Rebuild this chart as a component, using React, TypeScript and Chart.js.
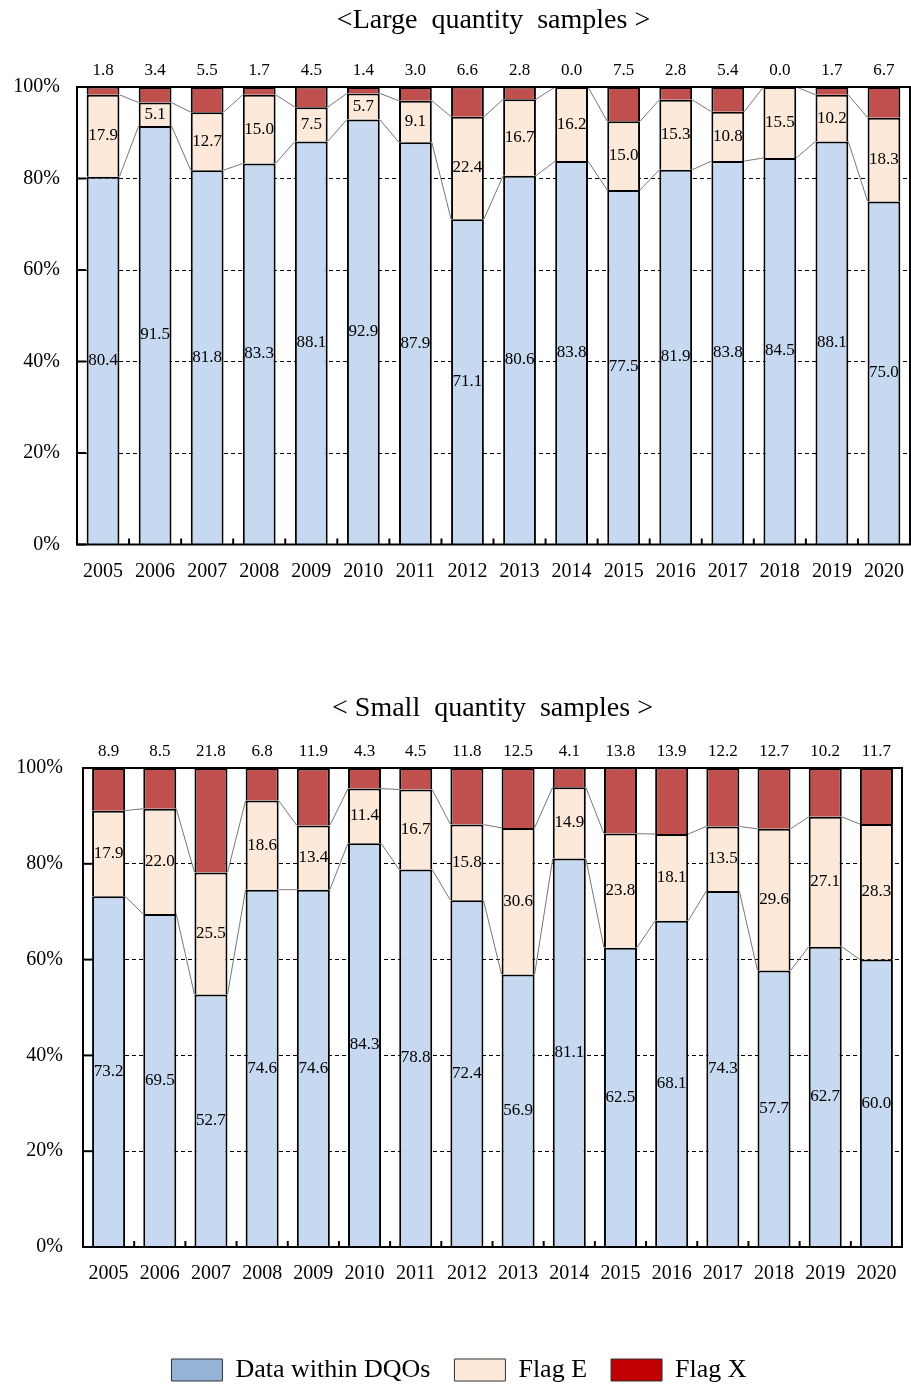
import React, { useEffect, useRef } from 'react';
import { Chart, registerables } from 'chart.js';

Chart.register(...registerables);

const years = ['2005', '2006', '2007', '2008', '2009', '2010', '2011', '2012', '2013', '2014', '2015', '2016', '2017', '2018', '2019', '2020'];

const largeDqo = [80.4, 91.5, 81.8, 83.3, 88.1, 92.9, 87.9, 71.1, 80.6, 83.8, 77.5, 81.9, 83.8, 84.5, 88.1, 75.0];
const largeE = [17.9, 5.1, 12.7, 15.0, 7.5, 5.7, 9.1, 22.4, 16.7, 16.2, 15.0, 15.3, 10.8, 15.5, 10.2, 18.3];
const largeX = [1.8, 3.4, 5.5, 1.7, 4.5, 1.4, 3.0, 6.6, 2.8, 0.0, 7.5, 2.8, 5.4, 0.0, 1.7, 6.7];

const smallDqo = [73.2, 69.5, 52.7, 74.6, 74.6, 84.3, 78.8, 72.4, 56.9, 81.1, 62.5, 68.1, 74.3, 57.7, 62.7, 60.0];
const smallE = [17.9, 22.0, 25.5, 18.6, 13.4, 11.4, 16.7, 15.8, 30.6, 14.9, 23.8, 18.1, 13.5, 29.6, 27.1, 28.3];
const smallX = [8.9, 8.5, 21.8, 6.8, 11.9, 4.3, 4.5, 11.8, 12.5, 4.1, 13.8, 13.9, 12.2, 12.7, 10.2, 11.7];

const seriesNames = ['Data within DQOs', 'Flag E', 'Flag X'];
const barColors = ['#C6D9F1', '#FDE9D9', '#C0504D'];
const legendColors = ['#95B3D7', '#FDE9D9', '#C00000'];
const yTickValues = [0, 20, 40, 60, 80, 100];

const FONT = "'Liberation Serif', 'Times New Roman', serif";

const overlayPlugin = {
  id: 'overlay',
  afterDatasetsDraw(chart: any) {
    const { ctx, chartArea: ca } = chart;
    const ys = chart.scales.y;
    const xs = chart.scales.x;
    ctx.save();
    // series lines
    ctx.strokeStyle = '#777777';
    ctx.lineWidth = 1;
    [0, 1].forEach((di) => {
      const els = chart.getDatasetMeta(di).data;
      for (let i = 0; i < els.length - 1; i++) {
        const a = els[i];
        const b = els[i + 1];
        ctx.beginPath();
        ctx.moveTo(a.x + a.width / 2, a.y);
        ctx.lineTo(b.x - b.width / 2, b.y);
        ctx.stroke();
      }
    });
    // value labels
    ctx.fillStyle = '#000';
    ctx.font = `17px ${FONT}`;
    ctx.textAlign = 'center';
    ctx.textBaseline = 'middle';
    chart.data.datasets.forEach((ds: any, di: number) => {
      const els = chart.getDatasetMeta(di).data;
      ds.data.forEach((v: number, i: number) => {
        const el = els[i];
        const y = di === 2 ? ca.top - 16 : (el.y + el.base) / 2;
        ctx.fillText(v.toFixed(1), el.x, y);
      });
    });
    // frame
    ctx.strokeStyle = '#000';
    ctx.lineWidth = 2;
    ctx.strokeRect(ca.left, ca.top, ca.right - ca.left, ca.bottom - ca.top);
    // inside y ticks
    yTickValues.forEach((t) => {
      const py = ys.getPixelForValue(t);
      ctx.beginPath();
      ctx.moveTo(ca.left, py);
      ctx.lineTo(ca.left + 9, py);
      ctx.stroke();
    });
    // x boundary ticks
    const n = chart.data.labels.length;
    for (let i = 0; i < n - 1; i++) {
      const px = (xs.getPixelForValue(i) + xs.getPixelForValue(i + 1)) / 2;
      ctx.beginPath();
      ctx.moveTo(px, ca.bottom);
      ctx.lineTo(px, ca.bottom - 6);
      ctx.stroke();
    }
    ctx.restore();
  },
};

type ChartProps = {
  title: string;
  dqo: number[];
  e: number[];
  x: number[];
  top: number;
  height: number;
  yWidth: number;
  leftPad: number;
  rightPad: number;
  yLabelPad: number;
  titlePadTop: number;
  titlePadBottom: number;
  xHeight: number;
  barPct: number;
  showLegend: boolean;
  bottomPad: number;
};

function StackedChart(p: ChartProps) {
  const ref = useRef<HTMLCanvasElement | null>(null);
  useEffect(() => {
    if (!ref.current) return;
    const values = [p.dqo, p.e, p.x];
    const chart = new Chart(ref.current, {
      type: 'bar',
      data: {
        labels: years,
        datasets: values.map((d, i) => ({
          label: seriesNames[i],
          data: d,
          backgroundColor: barColors[i],
          borderColor: '#000',
          borderWidth: 2,
          barPercentage: p.barPct,
          categoryPercentage: 1,
        })),
      },
      options: {
        responsive: false,
        animation: false,
        devicePixelRatio: 1,
        layout: { padding: { left: p.leftPad, right: p.rightPad, top: 0, bottom: p.bottomPad } },
        plugins: {
          title: {
            display: true,
            text: p.title,
            fullSize: false,
            color: '#000',
            font: { family: FONT, size: 28, weight: 'normal', lineHeight: 1.2 },
            padding: { top: p.titlePadTop, bottom: p.titlePadBottom },
          },
          legend: {
            display: p.showLegend,
            position: 'bottom',
            labels: {
              boxWidth: 51,
              boxHeight: 22,
              padding: 24,
              color: '#000',
              font: { family: FONT, size: 26 },
              generateLabels: () =>
                seriesNames.map((text, i) => ({
                  text,
                  fillStyle: legendColors[i],
                  strokeStyle: '#333',
                  lineWidth: 1,
                  hidden: false,
                  datasetIndex: i,
                  fontColor: '#000',
                })),
            },
          },
          tooltip: { enabled: false },
        },
        scales: {
          x: {
            stacked: true,
            grid: { display: false },
            border: { display: false },
            ticks: {
              color: '#000',
              font: { family: FONT, size: 20 },
              padding: 7,
              maxRotation: 0,
              autoSkip: false,
            },
            afterFit: (s: any) => {
              s.height = p.xHeight;
            },
          },
          y: {
            stacked: true,
            min: 0,
            max: 100,
            grid: { color: '#000', lineWidth: 1, drawTicks: false },
            border: { display: false, dash: [4, 3] },
            ticks: {
              stepSize: 20,
              color: '#000',
              font: { family: FONT, size: 20 },
              padding: p.yLabelPad,
              callback: (v: any) => `${v}%`,
            },
            afterFit: (s: any) => {
              s.width = p.yWidth;
            },
          },
        },
      } as any,
      plugins: [overlayPlugin],
    });
    return () => chart.destroy();
  }, []);
  return (
    <canvas
      ref={ref}
      width={911}
      height={p.height}
      style={{ position: 'absolute', left: 0, top: p.top, width: 911, height: p.height }}
    />
  );
}

export default function App() {
  return (
    <div style={{ position: 'absolute', left: 0, top: 0, width: 911, height: 1387, background: '#fff', overflow: 'hidden' }}>
      <StackedChart
        title="<Large  quantity  samples >"
        dqo={largeDqo}
        e={largeE}
        x={largeX}
        top={0}
        height={600}
        yWidth={77}
        leftPad={0}
        rightPad={1}
        yLabelPad={17}
        titlePadTop={4.2}
        titlePadBottom={49.2}
        xHeight={55.5}
        barPct={0.63}
        showLegend={false}
        bottomPad={0}
      />
      <StackedChart
        title="< Small  quantity  samples >"
        dqo={smallDqo}
        e={smallE}
        x={smallX}
        top={686}
        height={701}
        yWidth={67}
        leftPad={16}
        rightPad={9}
        yLabelPad={20}
        titlePadTop={6.2}
        titlePadBottom={42.2}
        xHeight={86}
        barPct={0.645}
        showLegend={true}
        bottomPad={-6}
      />
    </div>
  );
}
